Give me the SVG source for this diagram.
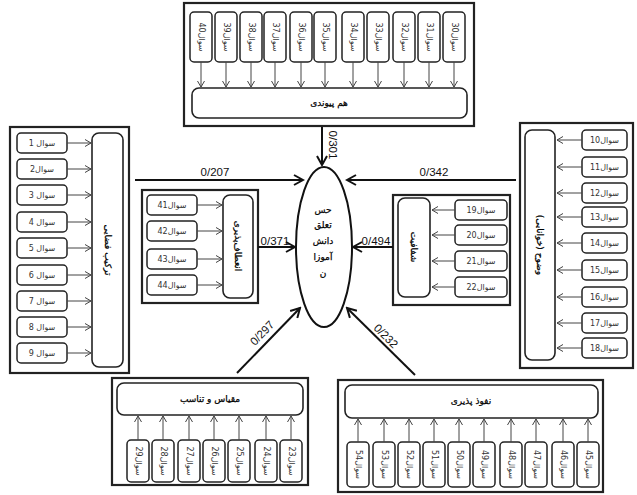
<svg xmlns="http://www.w3.org/2000/svg" width="637" height="495" viewBox="0 0 637 495">
<defs>
<marker id="sa" markerWidth="8" markerHeight="8" refX="7" refY="4" orient="auto" markerUnits="userSpaceOnUse">
<path d="M1,0.5 L7,4 L1,7.5" fill="none" stroke="#444" stroke-width="1"/>
</marker>
<marker id="ba" markerWidth="12" markerHeight="12" refX="10" refY="6" orient="auto" markerUnits="userSpaceOnUse">
<path d="M1,1 L10,6 L1,11" fill="none" stroke="#111" stroke-width="2"/>
</marker>
<style>
.outer{fill:#fff;stroke:#222;stroke-width:2.2}
.inner{fill:#fff;stroke:#222;stroke-width:1.6}
.q{fill:#fff;stroke:#222;stroke-width:1.5}
.qt{font-family:"DejaVu Sans",sans-serif;font-size:8px;fill:#333;text-anchor:middle;dominant-baseline:central}
.lt{font-family:"DejaVu Sans",sans-serif;font-size:9px;fill:#000;stroke:#000;stroke-width:0.25;text-anchor:middle;dominant-baseline:central}
.sa{stroke:#444;stroke-width:1;marker-end:url(#sa)}
.ba{stroke:#111;stroke-width:2;fill:none;marker-end:url(#ba)}
.num{font-family:"Liberation Sans",Arial,sans-serif;font-size:11.5px;fill:#111;text-anchor:middle}
</style>
</defs>
<rect width="637" height="495" fill="#fff"/>

<g id="node-hampeyvandi">
<rect class="outer" x="184" y="3" width="290" height="123"/>
<rect class="q" x="190" y="12" width="22" height="50" rx="4"/><text class="qt" transform="rotate(90 201 37)" x="201" y="37">سوال40</text>
<rect class="q" x="215" y="12" width="22" height="50" rx="4"/><text class="qt" transform="rotate(90 226 37)" x="226" y="37">سوال39</text>
<rect class="q" x="240" y="12" width="22" height="50" rx="4"/><text class="qt" transform="rotate(90 251 37)" x="251" y="37">سوال38</text>
<rect class="q" x="264" y="12" width="22" height="50" rx="4"/><text class="qt" transform="rotate(90 275 37)" x="275" y="37">سوال37</text>
<rect class="q" x="290" y="12" width="22" height="50" rx="4"/><text class="qt" transform="rotate(90 301 37)" x="301" y="37">سوال36</text>
<rect class="q" x="314" y="12" width="22" height="50" rx="4"/><text class="qt" transform="rotate(90 325 37)" x="325" y="37">سوال35</text>
<rect class="q" x="342" y="12" width="22" height="50" rx="4"/><text class="qt" transform="rotate(90 353 37)" x="353" y="37">سوال34</text>
<rect class="q" x="367" y="12" width="22" height="50" rx="4"/><text class="qt" transform="rotate(90 378 37)" x="378" y="37">سوال33</text>
<rect class="q" x="393" y="12" width="22" height="50" rx="4"/><text class="qt" transform="rotate(90 404 37)" x="404" y="37">سوال32</text>
<rect class="q" x="418" y="12" width="22" height="50" rx="4"/><text class="qt" transform="rotate(90 429 37)" x="429" y="37">سوال31</text>
<rect class="q" x="443" y="12" width="22" height="50" rx="4"/><text class="qt" transform="rotate(90 454 37)" x="454" y="37">سوال30</text>
<g>
<line class="sa" x1="201" y1="62" x2="201" y2="87"/><line class="sa" x1="226" y1="62" x2="226" y2="87"/><line class="sa" x1="251" y1="62" x2="251" y2="87"/><line class="sa" x1="275" y1="62" x2="275" y2="87"/><line class="sa" x1="301" y1="62" x2="301" y2="87"/><line class="sa" x1="325" y1="62" x2="325" y2="87"/><line class="sa" x1="353" y1="62" x2="353" y2="87"/><line class="sa" x1="378" y1="62" x2="378" y2="87"/><line class="sa" x1="404" y1="62" x2="404" y2="87"/><line class="sa" x1="429" y1="62" x2="429" y2="87"/><line class="sa" x1="454" y1="62" x2="454" y2="87"/>
</g>
<rect class="inner" x="192" y="88" width="275" height="30" rx="7"/>
<text class="lt" x="329" y="103">هم پیوندی</text>
</g>

<g id="node-tarkib">
<rect class="outer" x="10" y="127" width="119" height="246"/>
<rect class="q" x="17" y="133" width="50" height="20" rx="4"/><text class="qt" x="42" y="143">سوال 1</text>
<rect class="q" x="17" y="159" width="50" height="20" rx="4"/><text class="qt" x="42" y="169">سوال2</text>
<rect class="q" x="17" y="185" width="50" height="20" rx="4"/><text class="qt" x="42" y="195">سوال 3</text>
<rect class="q" x="17" y="212" width="50" height="20" rx="4"/><text class="qt" x="42" y="222">سوال 4</text>
<rect class="q" x="17" y="238" width="50" height="20" rx="4"/><text class="qt" x="42" y="248">سوال 5</text>
<rect class="q" x="17" y="265" width="50" height="20" rx="4"/><text class="qt" x="42" y="275">سوال 6</text>
<rect class="q" x="17" y="291" width="50" height="20" rx="4"/><text class="qt" x="42" y="301">سوال 7</text>
<rect class="q" x="17" y="317" width="50" height="20" rx="4"/><text class="qt" x="42" y="327">سوال 8</text>
<rect class="q" x="17" y="343" width="50" height="20" rx="4"/><text class="qt" x="42" y="353">سوال 9</text>
<g>
<line class="sa" x1="67" y1="143" x2="91" y2="143"/><line class="sa" x1="67" y1="169" x2="91" y2="169"/><line class="sa" x1="67" y1="195" x2="91" y2="195"/><line class="sa" x1="67" y1="222" x2="91" y2="222"/><line class="sa" x1="67" y1="248" x2="91" y2="248"/><line class="sa" x1="67" y1="275" x2="91" y2="275"/><line class="sa" x1="67" y1="301" x2="91" y2="301"/><line class="sa" x1="67" y1="327" x2="91" y2="327"/><line class="sa" x1="67" y1="353" x2="91" y2="353"/>
</g>
<rect class="inner" x="92" y="133" width="31" height="234" rx="7"/>
<text class="lt" transform="rotate(90 107.5 250)" x="107.5" y="250">ترکیب فضایی</text>
</g>

<g id="node-vozuh">
<rect class="outer" x="520" y="123" width="113" height="245"/>
<rect class="q" x="582" y="130" width="45" height="20" rx="4"/><text class="qt" x="604.5" y="140">سوال10</text>
<rect class="q" x="582" y="157" width="45" height="20" rx="4"/><text class="qt" x="604.5" y="167">سوال11</text>
<rect class="q" x="582" y="183" width="45" height="20" rx="4"/><text class="qt" x="604.5" y="193">سوال12</text>
<rect class="q" x="582" y="207" width="45" height="20" rx="4"/><text class="qt" x="604.5" y="217">سوال13</text>
<rect class="q" x="582" y="233" width="45" height="20" rx="4"/><text class="qt" x="604.5" y="243">سوال14</text>
<rect class="q" x="582" y="260" width="45" height="20" rx="4"/><text class="qt" x="604.5" y="270">سوال15</text>
<rect class="q" x="582" y="287" width="45" height="20" rx="4"/><text class="qt" x="604.5" y="297">سوال16</text>
<rect class="q" x="582" y="313" width="45" height="20" rx="4"/><text class="qt" x="604.5" y="323">سوال17</text>
<rect class="q" x="582" y="338" width="45" height="20" rx="4"/><text class="qt" x="604.5" y="348">سوال18</text>
<g>
<line class="sa" x1="582" y1="140" x2="557" y2="140"/><line class="sa" x1="582" y1="167" x2="557" y2="167"/><line class="sa" x1="582" y1="193" x2="557" y2="193"/><line class="sa" x1="582" y1="217" x2="557" y2="217"/><line class="sa" x1="582" y1="243" x2="557" y2="243"/><line class="sa" x1="582" y1="270" x2="557" y2="270"/><line class="sa" x1="582" y1="297" x2="557" y2="297"/><line class="sa" x1="582" y1="323" x2="557" y2="323"/><line class="sa" x1="582" y1="348" x2="557" y2="348"/>
</g>
<rect class="inner" x="525" y="130" width="30" height="230" rx="7"/>
<text class="lt" transform="rotate(90 540 245)" x="540" y="245">وضوح (خوانایی)</text>
</g>

<g id="node-enetaf">
<rect class="outer" x="142" y="190" width="116" height="113"/>
<rect class="q" x="147" y="195" width="50" height="20" rx="4"/><text class="qt" x="172" y="205">سوال41</text>
<rect class="q" x="147" y="221" width="50" height="20" rx="4"/><text class="qt" x="172" y="231">سوال42</text>
<rect class="q" x="147" y="249" width="50" height="20" rx="4"/><text class="qt" x="172" y="259">سوال43</text>
<rect class="q" x="147" y="275" width="50" height="20" rx="4"/><text class="qt" x="172" y="285">سوال44</text>
<g>
<line class="sa" x1="197" y1="205" x2="222" y2="205"/><line class="sa" x1="197" y1="231" x2="222" y2="231"/><line class="sa" x1="197" y1="259" x2="222" y2="259"/><line class="sa" x1="197" y1="285" x2="222" y2="285"/>
</g>
<rect class="inner" x="223" y="195" width="30" height="103" rx="7"/>
<text class="lt" transform="rotate(90 238 246)" x="238" y="246">انعطاف‌پذیری</text>
</g>

<g id="node-shafafiyat">
<rect class="outer" x="393" y="195" width="117" height="110"/>
<rect class="q" x="455" y="200" width="52" height="20" rx="4"/><text class="qt" x="481" y="210">سوال19</text>
<rect class="q" x="455" y="225" width="52" height="20" rx="4"/><text class="qt" x="481" y="235">سوال20</text>
<rect class="q" x="455" y="251" width="52" height="20" rx="4"/><text class="qt" x="481" y="261">سوال21</text>
<rect class="q" x="455" y="277" width="52" height="20" rx="4"/><text class="qt" x="481" y="287">سوال22</text>
<g>
<line class="sa" x1="455" y1="210" x2="432" y2="210"/><line class="sa" x1="455" y1="235" x2="432" y2="235"/><line class="sa" x1="455" y1="261" x2="432" y2="261"/><line class="sa" x1="455" y1="287" x2="432" y2="287"/>
</g>
<rect class="inner" x="398" y="198" width="32" height="99" rx="7"/>
<text class="lt" transform="rotate(90 414 247)" x="414" y="247">شفافیت</text>
</g>

<g id="node-meghyas">
<rect class="outer" x="112" y="378" width="196" height="107"/>
<rect class="inner" x="117" y="383" width="186" height="32" rx="7"/>
<text class="lt" x="210" y="399">مقیاس و تناسب</text>
<rect class="q" x="127" y="440" width="22" height="42" rx="4"/><text class="qt" transform="rotate(90 138 461)" x="138" y="461">سوال29</text>
<rect class="q" x="152" y="440" width="22" height="42" rx="4"/><text class="qt" transform="rotate(90 163 461)" x="163" y="461">سوال28</text>
<rect class="q" x="178" y="440" width="22" height="42" rx="4"/><text class="qt" transform="rotate(90 189 461)" x="189" y="461">سوال27</text>
<rect class="q" x="203" y="440" width="22" height="42" rx="4"/><text class="qt" transform="rotate(90 214 461)" x="214" y="461">سوال26</text>
<rect class="q" x="228" y="440" width="22" height="42" rx="4"/><text class="qt" transform="rotate(90 239 461)" x="239" y="461">سوال25</text>
<rect class="q" x="255" y="440" width="22" height="42" rx="4"/><text class="qt" transform="rotate(90 266 461)" x="266" y="461">سوال24</text>
<rect class="q" x="280" y="440" width="22" height="42" rx="4"/><text class="qt" transform="rotate(90 291 461)" x="291" y="461">سوال23</text>
<g>
<line class="sa" x1="138" y1="440" x2="138" y2="416"/><line class="sa" x1="163" y1="440" x2="163" y2="416"/><line class="sa" x1="189" y1="440" x2="189" y2="416"/><line class="sa" x1="214" y1="440" x2="214" y2="416"/><line class="sa" x1="239" y1="440" x2="239" y2="416"/><line class="sa" x1="266" y1="440" x2="266" y2="416"/><line class="sa" x1="291" y1="440" x2="291" y2="416"/>
</g>
</g>

<g id="node-nofuz">
<rect class="outer" x="338" y="380" width="265" height="112"/>
<rect class="inner" x="345" y="385" width="253" height="33" rx="7"/>
<text class="lt" x="471" y="401">نفوذ پذیری</text>
<rect class="q" x="347" y="442" width="22" height="45" rx="4"/><text class="qt" transform="rotate(90 358 464.5)" x="358" y="464.5">سوال54</text>
<rect class="q" x="373" y="442" width="22" height="45" rx="4"/><text class="qt" transform="rotate(90 384 464.5)" x="384" y="464.5">سوال53</text>
<rect class="q" x="398" y="442" width="22" height="45" rx="4"/><text class="qt" transform="rotate(90 409 464.5)" x="409" y="464.5">سوال52</text>
<rect class="q" x="423" y="442" width="22" height="45" rx="4"/><text class="qt" transform="rotate(90 434 464.5)" x="434" y="464.5">سوال51</text>
<rect class="q" x="448" y="442" width="22" height="45" rx="4"/><text class="qt" transform="rotate(90 459 464.5)" x="459" y="464.5">سوال50</text>
<rect class="q" x="473" y="442" width="22" height="45" rx="4"/><text class="qt" transform="rotate(90 484 464.5)" x="484" y="464.5">سوال49</text>
<rect class="q" x="500" y="442" width="22" height="45" rx="4"/><text class="qt" transform="rotate(90 511 464.5)" x="511" y="464.5">سوال48</text>
<rect class="q" x="525" y="442" width="22" height="45" rx="4"/><text class="qt" transform="rotate(90 536 464.5)" x="536" y="464.5">سوال47</text>
<rect class="q" x="552" y="442" width="22" height="45" rx="4"/><text class="qt" transform="rotate(90 563 464.5)" x="563" y="464.5">سوال46</text>
<rect class="q" x="577" y="442" width="22" height="45" rx="4"/><text class="qt" transform="rotate(90 588 464.5)" x="588" y="464.5">سوال45</text>
<g>
<line class="sa" x1="358" y1="442" x2="358" y2="419"/><line class="sa" x1="384" y1="442" x2="384" y2="419"/><line class="sa" x1="409" y1="442" x2="409" y2="419"/><line class="sa" x1="434" y1="442" x2="434" y2="419"/><line class="sa" x1="459" y1="442" x2="459" y2="419"/><line class="sa" x1="484" y1="442" x2="484" y2="419"/><line class="sa" x1="511" y1="442" x2="511" y2="419"/><line class="sa" x1="536" y1="442" x2="536" y2="419"/><line class="sa" x1="563" y1="442" x2="563" y2="419"/><line class="sa" x1="588" y1="442" x2="588" y2="419"/>
</g>
</g>

<g id="node-center">
<ellipse cx="324" cy="247" rx="28" ry="80" fill="#fff" stroke="#111" stroke-width="2"/>
<text class="lt" x="323" y="210">حس</text>
<text class="lt" x="323" y="225">تعلق</text>
<text class="lt" x="323" y="241">دانش</text>
<text class="lt" x="323" y="257">آموزا</text>
<text class="lt" x="323" y="273">ن</text>
</g>

<g id="connectors">
<line class="ba" x1="322" y1="127" x2="322" y2="165"/>
<text class="num" transform="rotate(90 333 145)" x="333" y="149">0/301</text>
<line class="ba" x1="135" y1="180" x2="303" y2="180"/>
<text class="num" x="215" y="176">0/207</text>
<line class="ba" x1="516" y1="180" x2="347" y2="180"/>
<text class="num" x="434" y="176">0/342</text>
<line class="ba" x1="258" y1="247" x2="295" y2="247"/>
<text class="num" x="275" y="245">0/371</text>
<line class="ba" x1="393" y1="247" x2="353" y2="247"/>
<text class="num" x="376" y="245">0/494</text>
<line class="ba" x1="237" y1="373" x2="300" y2="308"/>
<text class="num" transform="rotate(-46 262 333)" x="262" y="337">0/297</text>
<line class="ba" x1="415" y1="375" x2="347" y2="308"/>
<text class="num" transform="rotate(45 386 336)" x="386" y="340">0/232</text>
</g>
</svg>
